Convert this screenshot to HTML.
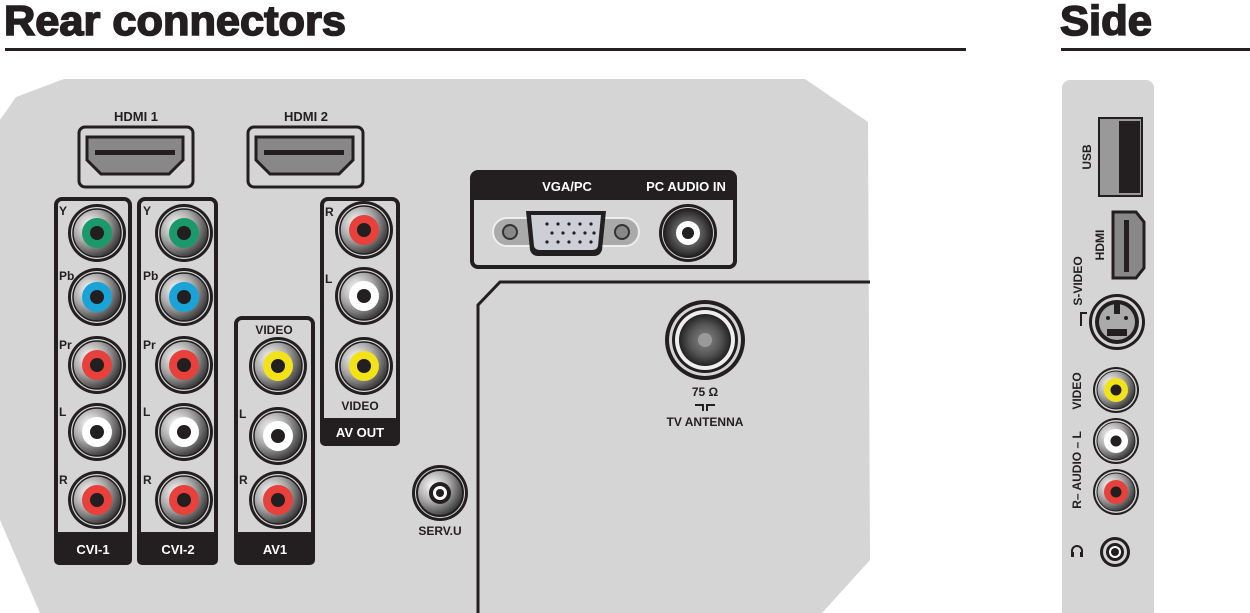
<!DOCTYPE html>
<html><head><meta charset="utf-8"><style>
html,body{margin:0;padding:0;background:#fff;width:1250px;height:613px;overflow:hidden}
svg{display:block}
text{font-family:"Liberation Sans",sans-serif;font-weight:bold}
.c{font-family:"Liberation Sans Narrow","Liberation Sans",sans-serif;font-weight:bold}
.w{fill:#fff}
.k{fill:#231f20}
.h{fill:#231f20;stroke:#231f20;stroke-width:1.6}
</style></head><body>
<svg width="1250" height="613" viewBox="0 0 1250 613" xmlns="http://www.w3.org/2000/svg">
<defs>
<radialGradient id="g" cx="0.35" cy="0.35" r="0.7">
<stop offset="0" stop-color="#fff"/><stop offset="0.5" stop-color="#aaa"/><stop offset="1" stop-color="#333"/>
</radialGradient>
<radialGradient id="g2" cx="0.5" cy="0.5" r="0.5">
<stop offset="0" stop-color="#888"/><stop offset="0.6" stop-color="#555"/><stop offset="1" stop-color="#222"/>
</radialGradient>
<g id="jk">
<circle r="29" fill="#231f20"/><circle r="26" fill="#d5d5d5"/><circle r="24" fill="url(#g)" stroke="#231f20" stroke-width="1.5"/>
</g>
<g id="sj">
<circle r="23" fill="#231f20"/><circle r="21" fill="#d5d5d5"/><circle r="19" fill="url(#g)" stroke="#231f20"/>
</g>
</defs>
<text x="4" y="35" font-size="42" class="h" textLength="342" lengthAdjust="spacingAndGlyphs">Rear connectors</text>
<rect x="5" y="48" width="961" height="3" fill="#231f20"/>
<text x="1060" y="35" font-size="42" class="h" textLength="92" lengthAdjust="spacingAndGlyphs">Side</text>
<rect x="1061" y="48" width="189" height="3" fill="#231f20"/>

<polygon points="64,79 805,79 868,122 870,560 822,613 40,613 0,520 0,120 16,97" fill="#d5d5d5"/>
<rect x="1062" y="80" width="92" height="540" rx="8" fill="#d5d5d5"/>

<g fill="none" stroke="#231f20" stroke-width="3">
<rect x="79" y="127" width="114" height="60" rx="6"/>
<rect x="248" y="127" width="115" height="60" rx="6"/>
</g>
<path d="M87,137 H183 V160 L169,174 H101 L87,160 Z" fill="#888" stroke="#231f20" stroke-width="3"/>
<rect x="95" y="150" width="80" height="5" fill="#231f20"/>
<path d="M256,137 H353 V160 L339,174 H270 L256,160 Z" fill="#888" stroke="#231f20" stroke-width="3"/>
<rect x="264" y="150" width="80" height="5" fill="#231f20"/>
<text class="c k" x="136" y="121" font-size="13" text-anchor="middle">HDMI 1</text>
<text class="c k" x="306" y="121" font-size="13" text-anchor="middle">HDMI 2</text>

<g fill="none" stroke="#231f20" stroke-width="4">
<rect x="56" y="199" width="74" height="364" rx="6"/>
<rect x="139" y="199" width="77" height="364" rx="6"/>
<rect x="236" y="318" width="77" height="245" rx="6"/>
<rect x="322" y="199" width="76" height="245" rx="6"/>
</g>
<g fill="#231f20">
<rect x="54" y="532" width="78" height="33" rx="5"/>
<rect x="137" y="532" width="81" height="33" rx="5"/>
<rect x="234" y="532" width="81" height="33" rx="5"/>
<rect x="320" y="418" width="80" height="28" rx="5"/>
</g>
<g font-size="13" text-anchor="middle">
<text class="c w" x="93" y="554">CVI-1</text>
<text class="c w" x="178" y="554">CVI-2</text>
<text class="c w" x="275" y="554">AV1</text>
<text class="c w" x="360" y="437">AV OUT</text>
</g>

<use href="#jk" x="97" y="233"/><circle cx="97" cy="233" r="15" fill="#1a9a6c"/>
<use href="#jk" x="97" y="297"/><circle cx="97" cy="297" r="15" fill="#1aa3d6"/>
<use href="#jk" x="97" y="365"/><circle cx="97" cy="365" r="15" fill="#e8403a"/>
<use href="#jk" x="97" y="432"/><circle cx="97" cy="432" r="15" fill="#fff"/>
<use href="#jk" x="97" y="500"/><circle cx="97" cy="500" r="15" fill="#e8403a"/>
<use href="#jk" x="184" y="233"/><circle cx="184" cy="233" r="15" fill="#1a9a6c"/>
<use href="#jk" x="184" y="297"/><circle cx="184" cy="297" r="15" fill="#1aa3d6"/>
<use href="#jk" x="184" y="365"/><circle cx="184" cy="365" r="15" fill="#e8403a"/>
<use href="#jk" x="184" y="432"/><circle cx="184" cy="432" r="15" fill="#fff"/>
<use href="#jk" x="184" y="500"/><circle cx="184" cy="500" r="15" fill="#e8403a"/>
<use href="#jk" x="278" y="366"/><circle cx="278" cy="366" r="15" fill="#f2e21a"/>
<use href="#jk" x="278" y="436"/><circle cx="278" cy="436" r="15" fill="#fff"/>
<use href="#jk" x="278" y="500"/><circle cx="278" cy="500" r="15" fill="#e8403a"/>
<use href="#jk" x="364" y="230"/><circle cx="364" cy="230" r="15" fill="#e8403a"/>
<use href="#jk" x="364" y="296"/><circle cx="364" cy="296" r="15" fill="#fff"/>
<use href="#jk" x="364" y="366"/><circle cx="364" cy="366" r="15" fill="#f2e21a"/>
<g fill="#231f20">
<circle cx="97" cy="233" r="7"/><circle cx="97" cy="297" r="7"/><circle cx="97" cy="365" r="7"/><circle cx="97" cy="432" r="7"/><circle cx="97" cy="500" r="7"/>
<circle cx="184" cy="233" r="7"/><circle cx="184" cy="297" r="7"/><circle cx="184" cy="365" r="7"/><circle cx="184" cy="432" r="7"/><circle cx="184" cy="500" r="7"/>
<circle cx="278" cy="366" r="7"/><circle cx="278" cy="436" r="7"/><circle cx="278" cy="500" r="7"/>
<circle cx="364" cy="230" r="7"/><circle cx="364" cy="296" r="7"/><circle cx="364" cy="366" r="7"/>
</g>

<g font-size="12">
<text class="c k" x="59" y="215">Y</text><text class="c k" x="59" y="280">Pb</text><text class="c k" x="59" y="349">Pr</text><text class="c k" x="59" y="416">L</text><text class="c k" x="59" y="484">R</text>
<text class="c k" x="143" y="215">Y</text><text class="c k" x="143" y="280">Pb</text><text class="c k" x="143" y="349">Pr</text><text class="c k" x="143" y="416">L</text><text class="c k" x="143" y="484">R</text>
<text class="c k" x="239" y="418">L</text><text class="c k" x="239" y="484">R</text>
<text class="c k" x="325" y="216">R</text><text class="c k" x="325" y="283">L</text>
<text class="c k" x="274" y="334" text-anchor="middle">VIDEO</text>
<text class="c k" x="360" y="410" text-anchor="middle">VIDEO</text>
<text class="c k" x="440" y="535" text-anchor="middle">SERV.U</text>
<text class="c k" x="705" y="396" text-anchor="middle">75 Ω</text>
<text class="c k" x="705" y="426" text-anchor="middle">TV ANTENNA</text>
</g>
<path d="M695,405 h8 v6 M715,405 h-8 v6" stroke="#231f20" stroke-width="2" fill="none"/>

<circle cx="440" cy="493" r="28" fill="#231f20"/><circle cx="440" cy="493" r="25" fill="#d5d5d5"/><circle cx="440" cy="493" r="23" fill="url(#g)" stroke="#231f20" stroke-width="2"/><circle cx="440" cy="493" r="11" fill="#231f20"/><circle cx="440" cy="493" r="7" fill="#fff"/><circle cx="440" cy="493" r="4" fill="#231f20"/>

<rect x="472" y="172" width="263" height="95" rx="6" fill="none" stroke="#231f20" stroke-width="4"/>
<path d="M472,200 V178 a6,6 0 0 1 6,-6 H729 a6,6 0 0 1 6,6 V200 Z" fill="#231f20"/>
<text class="c w" x="567" y="191" font-size="13" text-anchor="middle">VGA/PC</text>
<text class="c w" x="686" y="191" font-size="13" text-anchor="middle">PC AUDIO IN</text>
<rect x="493" y="218" width="146" height="28" rx="14" fill="#aaa" stroke="#eee" stroke-width="2"/>
<circle cx="510" cy="232" r="7" fill="#888" stroke="#333" stroke-width="2"/><circle cx="622" cy="232" r="7" fill="#888" stroke="#333" stroke-width="2"/>
<path d="M526,211 H606 L602,250 Q600,256 594,256 H538 Q532,256 530,250 Z" fill="#231f20"/>
<path d="M531,215 H601 L598,246 Q597,250 592,250 H540 Q535,250 534,246 Z" fill="#ccd0d6"/>
<g fill="#231f20">
<circle cx="547" cy="224" r="1.6"/><circle cx="558" cy="224" r="1.6"/><circle cx="569" cy="224" r="1.6"/><circle cx="580" cy="224" r="1.6"/><circle cx="591" cy="224" r="1.6"/>
<circle cx="552" cy="233" r="1.6"/><circle cx="563" cy="233" r="1.6"/><circle cx="574" cy="233" r="1.6"/><circle cx="585" cy="233" r="1.6"/><circle cx="594" cy="233" r="1.6"/>
<circle cx="547" cy="242" r="1.6"/><circle cx="558" cy="242" r="1.6"/><circle cx="569" cy="242" r="1.6"/><circle cx="580" cy="242" r="1.6"/><circle cx="591" cy="242" r="1.6"/>
</g>
<circle cx="688" cy="233" r="29" fill="#231f20"/><circle cx="688" cy="233" r="26" fill="#d5d5d5"/><circle cx="688" cy="233" r="24" fill="url(#g2)" stroke="#231f20" stroke-width="2"/><circle cx="688" cy="233" r="12" fill="#fff"/><circle cx="688" cy="233" r="6" fill="#231f20"/>

<polyline points="478,613 478,305 500,282 870,282" fill="none" stroke="#231f20" stroke-width="3"/>

<circle cx="705" cy="340" r="40" fill="#231f20"/><circle cx="705" cy="340" r="36" fill="#d5d5d5"/><circle cx="705" cy="340" r="33" fill="#231f20"/><circle cx="705" cy="340" r="30" fill="#eee"/><circle cx="705" cy="340" r="26" fill="url(#g2)"/><circle cx="705" cy="340" r="7" fill="#999"/>

<rect x="1099" y="118" width="43" height="78" fill="#999" stroke="#231f20" stroke-width="2"/>
<rect x="1119" y="121" width="21" height="72" fill="#231f20"/>
<path d="M1113,212 H1136 L1144,222 V268 L1136,278 H1113 Z" fill="#888" stroke="#231f20" stroke-width="3"/>
<rect x="1124" y="220" width="5" height="52" fill="#231f20"/>
<circle cx="1117" cy="322" r="28" fill="#231f20"/><circle cx="1117" cy="322" r="25" fill="#d5d5d5"/><circle cx="1117" cy="322" r="22" fill="#231f20"/><circle cx="1117" cy="322" r="18" fill="#aaa"/>
<rect x="1114" y="302" width="6" height="12" fill="#231f20"/>
<rect x="1107" y="329" width="20" height="7" fill="#231f20"/>
<circle cx="1108" cy="318" r="2" fill="#231f20"/><circle cx="1126" cy="318" r="2" fill="#231f20"/>
<path d="M1081,326 V313 H1087" fill="none" stroke="#231f20" stroke-width="2"/>
<use href="#sj" x="1116" y="390"/><circle cx="1116" cy="390" r="12" fill="#f2e21a"/><circle cx="1116" cy="390" r="5.5" fill="#231f20"/>
<use href="#sj" x="1116" y="441"/><circle cx="1116" cy="441" r="12" fill="#fff"/><circle cx="1116" cy="441" r="5.5" fill="#231f20"/>
<use href="#sj" x="1116" y="492"/><circle cx="1116" cy="492" r="12" fill="#e8403a"/><circle cx="1116" cy="492" r="5.5" fill="#231f20"/>
<circle cx="1115" cy="552" r="15" fill="#231f20"/><circle cx="1115" cy="552" r="12" fill="#d5d5d5"/><circle cx="1115" cy="552" r="9" fill="#231f20"/><circle cx="1115" cy="552" r="6" fill="#fff"/><circle cx="1115" cy="552" r="4" fill="#231f20"/>
<g font-size="12">
<text class="c k" transform="translate(1091,157) rotate(-90)" text-anchor="middle">USB</text>
<text class="c k" transform="translate(1104,245) rotate(-90)" text-anchor="middle">HDMI</text>
<text class="c k" transform="translate(1082,281) rotate(-90)" text-anchor="middle">S-VIDEO</text>
<text class="c k" transform="translate(1081,391) rotate(-90)" text-anchor="middle">VIDEO</text>
<text class="c k" transform="translate(1081,470) rotate(-90)" text-anchor="middle">R– AUDIO – L</text>
</g>
<path d="M1072,556 v-5 a5,5 0 0 1 10,0 v5" fill="none" stroke="#231f20" stroke-width="2"/>
<rect x="1071" y="552" width="3" height="5" fill="#231f20"/><rect x="1080" y="552" width="3" height="5" fill="#231f20"/>
</svg>
</body></html>
